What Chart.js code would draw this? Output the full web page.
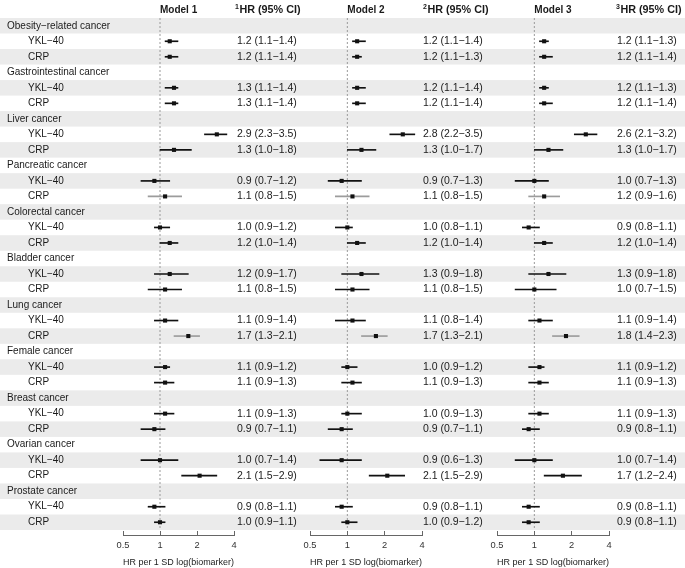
<!DOCTYPE html>
<html>
<head>
<meta charset="utf-8">
<script src="https://cdn.jsdelivr.net/npm/chart.js@4.4.1/dist/chart.umd.min.js"></script>
<style>
  html,body{margin:0;padding:0;background:#fff}
  #c{display:block}
</style>
</head>
<body>
<canvas id="c" width="685" height="568"></canvas>
<script>
/* ── data ─────────────────────────────────── */
const groupNames=['Obesity\u2212related cancer','Gastrointestinal cancer','Liver cancer','Pancreatic cancer',
  'Colorectal cancer','Bladder cancer','Lung cancer','Female cancer','Breast cancer','Ovarian cancer','Prostate cancer'];
const markerNames=['YKL\u221240','CRP'];
const modelNames=['Model 1','Model 2','Model 3'];
const xTicks=[0.5,1,2,4];

// one entry per marker row: group order, YKL-40 then CRP
const m1Est=[1.2,1.2, 1.3,1.3, 2.9,1.3, 0.9,1.1, 1.0,1.2, 1.2,1.1, 1.1,1.7, 1.1,1.1, 1.1,0.9, 1.0,2.1, 0.9,1.0];
const m1Lo =[1.1,1.1, 1.1,1.1, 2.3,1.0, 0.7,0.8, 0.9,1.0, 0.9,0.8, 0.9,1.3, 0.9,0.9, 0.9,0.7, 0.7,1.5, 0.8,0.9];
const m1Hi =[1.4,1.4, 1.4,1.4, 3.5,1.8, 1.2,1.5, 1.2,1.4, 1.7,1.5, 1.4,2.1, 1.2,1.3, 1.3,1.1, 1.4,2.9, 1.1,1.1];

const m2Est=[1.2,1.2, 1.2,1.2, 2.8,1.3, 0.9,1.1, 1.0,1.2, 1.3,1.1, 1.1,1.7, 1.0,1.1, 1.0,0.9, 0.9,2.1, 0.9,1.0];
const m2Lo =[1.1,1.1, 1.1,1.1, 2.2,1.0, 0.7,0.8, 0.8,1.0, 0.9,0.8, 0.8,1.3, 0.9,0.9, 0.9,0.7, 0.6,1.5, 0.8,0.9];
const m2Hi =[1.4,1.3, 1.4,1.4, 3.5,1.7, 1.3,1.5, 1.1,1.4, 1.8,1.5, 1.4,2.1, 1.2,1.3, 1.3,1.1, 1.3,2.9, 1.1,1.2];

const m3Est=[1.2,1.2, 1.2,1.2, 2.6,1.3, 1.0,1.2, 0.9,1.2, 1.3,1.0, 1.1,1.8, 1.1,1.1, 1.1,0.9, 1.0,1.7, 0.9,0.9];
const m3Lo =[1.1,1.1, 1.1,1.1, 2.1,1.0, 0.7,0.9, 0.8,1.0, 0.9,0.7, 0.9,1.4, 0.9,0.9, 0.9,0.8, 0.7,1.2, 0.8,0.8];
const m3Hi =[1.3,1.4, 1.3,1.4, 3.2,1.7, 1.3,1.6, 1.1,1.4, 1.8,1.5, 1.4,2.3, 1.2,1.3, 1.3,1.1, 1.4,2.4, 1.1,1.1];

/* ── layout / style ───────────────────────── */
const FONT='"Liberation Sans", Arial, Helvetica, sans-serif';
const TXT='#1a1a1a';
const SHADE='#ebebeb';
const panelPx=[[123,234],[310,422],[497,609]];
const hrHeadX=[235,423,616];
const valX=[237,423,617];
const greyCi=[7,13];   // CI drawn lighter in the original

const nRows=groupNames.length*3;
const rowOf=k=>3*Math.floor(k/2)+1+(k%2);
const fmt=v=>v.toFixed(1);
const models=[[m1Est,m1Lo,m1Hi],[m2Est,m2Lo,m2Hi],[m3Est,m3Lo,m3Hi]];

Chart.defaults.font.family=FONT;
Chart.defaults.color=TXT;

const datasets=[];
models.forEach(([est,lo,hi],i)=>{
  const xid='x'+(i+1);
  datasets.push({
    type:'scatter',xAxisID:xid,yAxisID:'y',order:3,
    data:[{x:1,y:-0.5},{x:1,y:nRows-0.5}],
    showLine:true,borderColor:'#9a9a9a',borderWidth:1,borderDash:[2,2],pointRadius:0,clip:false
  });
  datasets.push({
    type:'bar',xAxisID:xid,yAxisID:'y',order:2,indexAxis:'y',grouped:false,
    data:est.map((_,k)=>({x:[lo[k],hi[k]],y:rowOf(k)})),
    backgroundColor:est.map((_,k)=>greyCi.includes(k)?'#9c9c9c':'#111'),
    barThickness:1,borderWidth:0,clip:false
  });
  datasets.push({
    type:'scatter',xAxisID:xid,yAxisID:'y',order:1,
    data:est.map((v,k)=>({x:v,y:rowOf(k)})),
    pointStyle:'rect',pointRadius:2.9,backgroundColor:'#111',borderWidth:0,clip:false
  });
});

const xScale=()=>({
  type:'logarithmic',axis:'x',position:'bottom',stack:'bx',min:0.5,max:4,offset:false,
  afterBuildTicks:s=>{s.ticks=xTicks.map(v=>({value:v}));},
  afterFit:s=>{s.height=38;},
  ticks:{autoSkip:false,maxRotation:0,padding:9,color:'#333',font:{size:9.3},callback:v=>String(v)},
  grid:{drawOnChartArea:false,drawTicks:true,tickLength:-4,color:'#666'},
  border:{display:true,color:'#666',width:1},
  title:{display:true,text:'HR per 1 SD log(biomarker)',color:TXT,font:{size:9.3},padding:{top:0,bottom:0}}
});

// row shading behind everything
const shadePlugin={
  id:'shade',
  beforeDraw(chart){
    const {ctx}=chart, y=chart.scales.y;
    ctx.save();
    ctx.fillStyle=SHADE;
    for(let r=0;r<nRows;r+=2){
      const t=y.getPixelForValue(r-0.5), b=y.getPixelForValue(r+0.5);
      ctx.fillRect(0,t,chart.width,b-t);
    }
    ctx.restore();
  }
};

// put the three log axes side by side at their columns
const panelPlugin={
  id:'panels',
  afterLayout(chart){
    panelPx.forEach(([l,r],i)=>{
      const s=chart.scales['x'+(i+1)];
      s.left=l;s.right=r;s.width=r-l;
      s.top=535;s.bottom=568;s.height=33;
      s.configure();
    });
  }
};

// text columns: labels, headers, HR (95% CI)
const textPlugin={
  id:'texts',
  afterDraw(chart){
    const {ctx}=chart, y=chart.scales.y;
    ctx.save();
    ctx.fillStyle=TXT;
    ctx.textBaseline='middle';
    ctx.textAlign='left';
    ctx.font='10px '+FONT;
    groupNames.forEach((g,gi)=>{
      ctx.fillText(g,7,y.getPixelForValue(3*gi));
      markerNames.forEach((m,mi)=>ctx.fillText(m,28,y.getPixelForValue(3*gi+1+mi)));
    });
    models.forEach(([est,lo,hi],i)=>{
      const s=chart.scales['x'+(i+1)];
      ctx.font='bold 10px '+FONT;
      ctx.fillText(modelNames[i],s.getPixelForValue(1),10.5);
      ctx.font='bold 7px '+FONT;
      const sup=String(i+1);
      ctx.fillText(sup,hrHeadX[i],7.5);
      const sw=ctx.measureText(sup).width;
      ctx.font='bold 10.8px '+FONT;
      ctx.fillText('HR (95% CI)',hrHeadX[i]+sw+0.5,10.5);
      ctx.font='10.5px '+FONT;
      est.forEach((v,k)=>{
        ctx.fillText(`${fmt(v)} (${fmt(lo[k])}\u2212${fmt(hi[k])})`,valX[i],y.getPixelForValue(rowOf(k)));
      });
    });
    ctx.restore();
  }
};

new Chart(document.getElementById('c'),{
  type:'scatter',
  data:{datasets},
  options:{
    responsive:false,
    animation:false,
    events:[],
    layout:{padding:{top:18,left:0,right:0,bottom:0}},
    plugins:{legend:{display:false},tooltip:{enabled:false}},
    scales:{
      y:{type:'linear',min:-0.5,max:nRows-0.5,reverse:true,display:false,offset:false,grid:{offset:false}},
      x1:xScale(),x2:xScale(),x3:xScale()
    }
  },
  plugins:[shadePlugin,panelPlugin,textPlugin]
});
</script>
</body>
</html>
